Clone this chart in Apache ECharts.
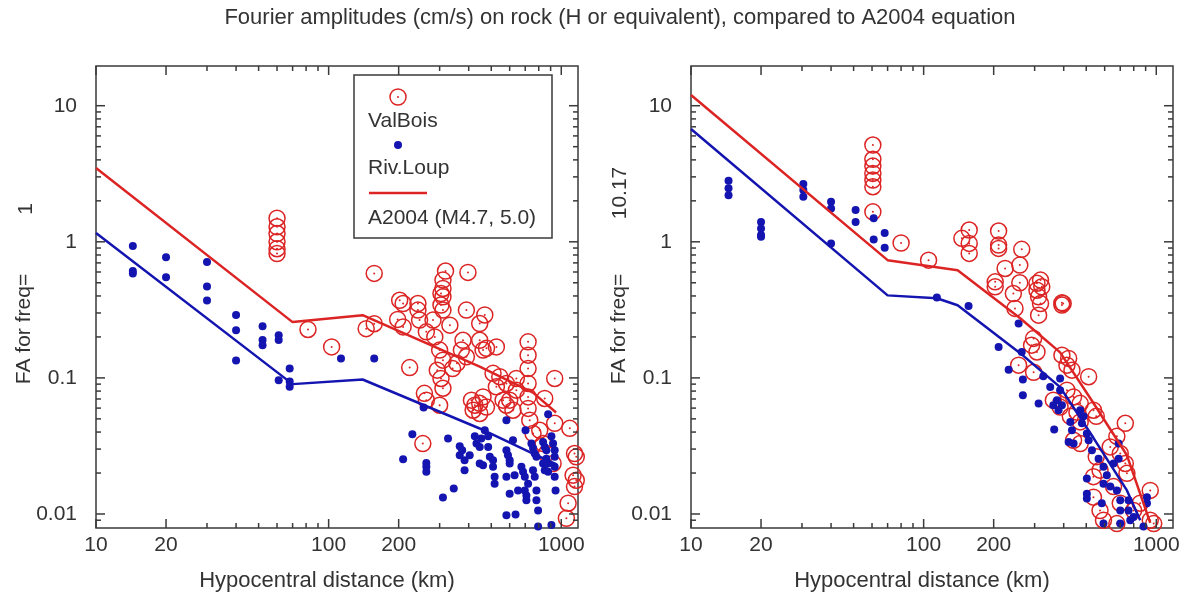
<!DOCTYPE html>
<html><head><meta charset="utf-8">
<script src="https://cdn.jsdelivr.net/npm/echarts@6/dist/echarts.min.js"></script>
<style>html,body{margin:0;padding:0;background:#fff}#c{width:1185px;height:595px}</style>
</head><body><div id="c"></div>
<script>
// ---------- text ----------
const titleText = 'Fourier amplitudes (cm/s) on rock (H or equivalent), compared to A2004 equation';
const xAxisTitle = 'Hypocentral distance (km)';
const yAxisTitle = 'FA for freq=';
const freqLabels = ['1', '10.17'];
const legendNames = ['ValBois', 'Riv.Loup', 'A2004 (M4.7, 5.0)'];

// ---------- axes ----------
const X_MIN = 10, X_MAX = 1180;
const Y_MIN = 0.00789, Y_MAX = 19.58;
const xTickValues = [10,20,30,40,50,60,70,80,90,100,200,300,400,500,600,700,800,900,1000];
const xLabelValues = [10,20,100,200,1000];
const xLabelText = ['10','20','100','200','1000'];
const yTickValues = [0.009,0.01,0.02,0.03,0.04,0.05,0.06,0.07,0.08,0.09,0.1,0.2,0.3,0.4,0.5,0.6,0.7,0.8,0.9,1,2,3,4,5,6,7,8,9,10];
const yLabelValues = [0.01,0.1,1,10];
const yLabelText = ['0.01','0.1','1','10'];

// ---------- model lines (A2004) ----------
const leftLineDist = [10, 70, 140, 446, 756, 950];
const leftRed  = [3.48, 0.257, 0.289, 0.121, 0.078, 0.0557];
const leftBlue = [1.16, 0.090, 0.0973, 0.0425, 0.0278, 0.0232];
const rightLineDistRed  = [10, 70, 140, 260, 386, 535, 748, 942];
const rightRed  = [12.0, 0.733, 0.619, 0.274, 0.154, 0.066, 0.027, 0.0086];
const rightLineDistBlue = [10, 70, 114, 140, 260, 386, 535, 748, 853];
const rightBlue = [6.74, 0.404, 0.385, 0.342, 0.152, 0.0855, 0.0366, 0.0149, 0.0090];

// ---------- observations: [distance km, FA] ----------
const leftValBois = [[60,1.49],[60,1.29],[60,1.15],[60,1.0],[60,0.89],[60,0.82],
[81.5,0.227],[103,0.169],[145,0.23],[157,0.25],[157,0.586],[202,0.372],
[242,0.352],[318,0.61],[397,0.596],[310,0.523],[310,0.454],[310,0.394],
[209,0.352],[198,0.269],[209,0.237],[223,0.119],[242,0.315],[246,0.266],[263,0.218],[281,0.266],[286,0.20],[304,0.417],[304,0.343],[310,0.315],[332,0.244],[300,0.16],[310,0.135],[293,0.114],[304,0.099],[310,0.084],[258,0.077],[263,0.0686],[300,0.063],[254,0.0329],
[391,0.315],[469,0.29],[446,0.251],[378,0.189],[372,0.16],[391,0.143],[341,0.117],[356,0.128],[446,0.189],[461,0.16],[477,0.165],[526,0.169],
[411,0.0686],[425,0.063],[446,0.065],[461,0.0725],[477,0.061],[418,0.0579],[446,0.0548],
[509,0.108],[544,0.102],[526,0.086],[581,0.091],[562,0.0686],[581,0.063],[600,0.0686],[620,0.0579],[641,0.099],[641,0.0813],
[720,0.184],[720,0.147],[720,0.117],[720,0.091],[720,0.0725],[720,0.0597],[732,0.0489],[756,0.039],[808,0.0412],[835,0.0329],[863,0.0278],
[937,0.099],[849,0.0706],[937,0.0464],[1088,0.0426],[1140,0.0278],[1160,0.0263],[1124,0.0193],[1160,0.0177],[1140,0.0159],[1070,0.012],[1052,0.0093],[922,0.0235]];

const leftRivLoup = [[14.4,0.93],[14.4,0.61],[14.4,0.586],[20,0.77],[20,0.55],[30,0.71],[30,0.47],[30,0.37],[40,0.29],[40,0.224],[40,0.134],[52,0.24],[52,0.19],[52,0.174],[61,0.206],[61,0.19],[61,0.096],[68,0.117],[68,0.094],[68,0.086],[113,0.139],[157,0.139],
[209,0.0252],[229,0.0386],[256,0.0606],[263,0.0237],[263,0.0222],[263,0.0204],[310,0.0132],[326,0.0358],[345,0.0154],[366,0.0315],[366,0.027],[375,0.0294],[384,0.0248],[384,0.021],[404,0.027],[425,0.0372],[432,0.0329],[446,0.0311],[453,0.0358],[446,0.0235],[461,0.0228],[469,0.0412],[485,0.0372],[485,0.0311],[493,0.0263],[509,0.0248],[509,0.0222],[517,0.0188],[517,0.0167],[581,0.0489],[581,0.0294],[590,0.027],[600,0.0248],[600,0.0235],[581,0.0188],[600,0.0141],[581,0.0098],[636,0.0099],[630,0.0193],[652,0.0149],[620,0.0348],[674,0.0222],[685,0.0204],[697,0.0188],[697,0.0149],[708,0.0137],[708,0.0126],[720,0.0167],[702,0.0412],[744,0.0329],[756,0.0305],[769,0.0278],[782,0.0263],[756,0.021],[769,0.0188],[782,0.0149],[782,0.0126],[795,0.0106],[795,0.0081],[907,0.0083],[835,0.0338],[849,0.0311],[863,0.0294],[863,0.0255],[878,0.0235],[878,0.0204],[878,0.0541],[907,0.0372],[922,0.0329],[937,0.0294],[937,0.0263],[937,0.0222],[937,0.0188],[945,0.0149],[835,0.0235],[849,0.021]];

const rightRivLoup = [[14.5,2.81],[14.5,2.47],[14.5,2.2],[20,1.40],[20,1.25],[20,1.12],[20,1.09],[30.4,2.66],[30.4,2.40],[30.4,2.14],[40,1.97],[40,1.76],[40,0.973],[51,1.71],[51,1.40],[61,1.49],[61,1.04],[68,1.16],[68,0.904],[114,0.39],[156,0.337],
[256,0.251],[210,0.169],[264,0.155],[232,0.115],[267,0.0973],[267,0.0746],[312,0.0648],[364,0.0418],[327,0.103],[350,0.0859],[386,0.099],[386,0.0813],[374,0.0686],[393,0.063],[361,0.063],[380,0.0579],[427,0.0475],[434,0.0412],[420,0.0338],[441,0.0329],[471,0.0579],[487,0.0522],[479,0.0464],[503,0.039],[512,0.0348],[503,0.0182],[503,0.0141],[503,0.013],[529,0.0294],[565,0.0255],[593,0.0222],[613,0.0193],[593,0.0167],[634,0.0159],[583,0.012],[593,0.0085],[689,0.0329],[689,0.0255],[655,0.0235],[677,0.0149],[700,0.0126],[700,0.0106],[700,0.0085],[760,0.0126],[760,0.0106],[773,0.009],[799,0.0095],[912,0.0133],[912,0.012],[881,0.0081]];

const rightValBois = [[60.5,5.14],[60.5,4.04],[60.5,3.6],[60.5,3.18],[60.5,2.84],[60.5,2.54],[60.5,1.66],[80,0.98],[105,0.733],[146,1.06],[157,1.22],[157,0.973],[157,0.822],[210,1.20],[210,0.946],[210,0.894],[264,0.88],[224,0.637],[259,0.674],[203,0.508],[203,0.467],[243,0.417],[259,0.50],[307,0.495],[307,0.441],[312,0.394],[322,0.467],[393,0.356],[318,0.523],[398,0.352],
[247,0.324],[318,0.352],[312,0.289],[393,0.343],[297,0.195],[291,0.174],[307,0.155],[256,0.124],[297,0.11],[393,0.147],[420,0.139],[413,0.124],[434,0.114],[512,0.102],[361,0.0686],[386,0.061],[413,0.0813],[441,0.0725],[471,0.065],[456,0.056],[427,0.0522],[471,0.0475],[537,0.0579],[552,0.0522],[441,0.0348],[471,0.0329],[736,0.0464],[677,0.0372],[634,0.0311],[700,0.0278],[736,0.0235],[748,0.0199],[552,0.0263],[573,0.021],[537,0.0188],[537,0.0133],[573,0.0106],[593,0.009],[677,0.0085],[700,0.012],[655,0.0159],[942,0.0149],[942,0.009],[975,0.0085],[853,0.012],[799,0.0106]];

// ---------- styling ----------
const RED = '#dc2424', BLUE = '#1414b0', AXIS = '#3a3a3a', TXT = '#333333';
const FONT = '"Liberation Sans", Arial, sans-serif';

const zip = (xs, ys) => xs.map((x, i) => [x, ys[i]]);

function xTickSeries(gi) {
  return {
    type: 'custom', xAxisIndex: gi, yAxisIndex: gi, silent: true, clip: false, z: 5,
    data: xTickValues.map(v => [v, Y_MIN]),
    renderItem: function (params, api) {
      const v = api.value(0);
      const b = api.coord([v, Y_MIN]);
      const t = api.coord([v, Y_MAX]);
      const li = xLabelValues.indexOf(v);
      const len = li >= 0 ? 9 : 5;
      const st = { stroke: AXIS, lineWidth: 1.5 };
      const ch = [
        { type: 'line', shape: { x1: b[0], y1: b[1], x2: b[0], y2: b[1] - len }, style: st },
        { type: 'line', shape: { x1: t[0], y1: t[1], x2: t[0], y2: t[1] + len }, style: st }
      ];
      if (li >= 0) ch.push({ type: 'text', x: b[0], y: b[1] + 17,
        style: { text: xLabelText[li], fill: TXT, font: '21px ' + FONT, align: 'center', verticalAlign: 'middle' } });
      return { type: 'group', children: ch };
    }
  };
}
function yTickSeries(gi) {
  return {
    type: 'custom', xAxisIndex: gi, yAxisIndex: gi, silent: true, clip: false, z: 5,
    data: yTickValues.map(v => [X_MIN, v]),
    renderItem: function (params, api) {
      const v = api.value(1);
      const l = api.coord([X_MIN, v]);
      const r = api.coord([X_MAX, v]);
      const li = yLabelValues.indexOf(v);
      const len = li >= 0 ? 9 : 5;
      const st = { stroke: AXIS, lineWidth: 1.5 };
      const ch = [
        { type: 'line', shape: { x1: l[0], y1: l[1], x2: l[0] + len, y2: l[1] }, style: st },
        { type: 'line', shape: { x1: r[0], y1: r[1], x2: r[0] - len, y2: r[1] }, style: st }
      ];
      if (li >= 0) ch.push({ type: 'text', x: l[0] - 19, y: l[1],
        style: { text: yLabelText[li], fill: TXT, font: '21px ' + FONT, align: 'right', verticalAlign: 'middle' } });
      return { type: 'group', children: ch };
    }
  };
}
function circles(gi, data) {
  return [
    { type: 'scatter', xAxisIndex: gi, yAxisIndex: gi, data: data, symbol: 'circle', symbolSize: 16, silent: true, z: 2,
      itemStyle: { color: 'rgba(255,255,255,0)', borderColor: RED, borderWidth: 1.5, opacity: 1 } },
    { type: 'scatter', xAxisIndex: gi, yAxisIndex: gi, data: data, symbol: 'circle', symbolSize: 2, silent: true, z: 2,
      itemStyle: { color: RED, opacity: 1 } }
  ];
}
function dots(gi, data) {
  return { type: 'scatter', xAxisIndex: gi, yAxisIndex: gi, data: data, symbol: 'circle', symbolSize: 8, silent: true, z: 3,
    itemStyle: { color: BLUE, opacity: 1 } };
}
function line(gi, data, color) {
  return { type: 'line', xAxisIndex: gi, yAxisIndex: gi, data: data, showSymbol: false, silent: true, z: 4,
    lineStyle: { color: color, width: 2.5 } };
}
const hiddenAxis = { axisLine: { show: false }, axisTick: { show: false }, axisLabel: { show: false }, splitLine: { show: false } };
function xAx(gi) { return Object.assign({ gridIndex: gi, type: 'log', logBase: 10, min: X_MIN, max: X_MAX }, hiddenAxis); }
function yAx(gi) { return Object.assign({ gridIndex: gi, type: 'log', logBase: 10, min: Y_MIN, max: Y_MAX }, hiddenAxis); }

const txt = (x, y, s, extra) => Object.assign({ type: 'text', x: x, y: y, z: 100,
  style: Object.assign({ text: s, fill: TXT, font: '21px ' + FONT, align: 'center', verticalAlign: 'middle' }, extra && extra.style || {}) },
  extra && extra.el || {});

const chart = echarts.init(document.getElementById('c'), null, { renderer: 'canvas' });
chart.setOption({
  animation: false,
  backgroundColor: '#ffffff',
  grid: [
    { left: 96, top: 66, width: 482, height: 462, show: true, borderColor: AXIS, borderWidth: 1.5, backgroundColor: '#fff' },
    { left: 691, top: 66, width: 482, height: 462, show: true, borderColor: AXIS, borderWidth: 1.5, backgroundColor: '#fff' }
  ],
  xAxis: [xAx(0), xAx(1)],
  yAxis: [yAx(0), yAx(1)],
  series: [].concat(
    circles(0, leftValBois), [dots(0, leftRivLoup)],
    [line(0, zip(leftLineDist, leftRed), RED), line(0, zip(leftLineDist, leftBlue), BLUE)],
    circles(1, rightValBois), [dots(1, rightRivLoup)],
    [line(1, zip(rightLineDistRed, rightRed), RED), line(1, zip(rightLineDistBlue, rightBlue), BLUE)],
    [xTickSeries(0), yTickSeries(0), xTickSeries(1), yTickSeries(1)]
  ),
  graphic: [
    txt(620, 18, titleText, { style: { font: '22px ' + FONT } }),
    txt(327, 581, xAxisTitle, { style: { font: '22px ' + FONT } }),
    txt(922, 581, xAxisTitle, { style: { font: '22px ' + FONT } }),
    txt(24, 329, yAxisTitle, { el: { rotation: Math.PI / 2 } }),
    txt(26, 209, freqLabels[0], { el: { rotation: Math.PI / 2 } }),
    txt(619, 329, yAxisTitle, { el: { rotation: Math.PI / 2 } }),
    txt(620, 193, freqLabels[1], { el: { rotation: Math.PI / 2 } }),
    // legend box
    { type: 'rect', z: 99, shape: { x: 354, y: 75, width: 198, height: 163 }, style: { fill: '#fff', stroke: AXIS, lineWidth: 1.5 } },
    { type: 'circle', z: 100, shape: { cx: 398, cy: 97, r: 8 }, style: { fill: 'rgba(0,0,0,0)', stroke: RED, lineWidth: 1.5 } },
    { type: 'circle', z: 100, shape: { cx: 398, cy: 97, r: 1 }, style: { fill: RED } },
    txt(368, 121, legendNames[0], { style: { align: 'left' } }),
    { type: 'circle', z: 100, shape: { cx: 398, cy: 145, r: 4 }, style: { fill: BLUE } },
    txt(368, 168, legendNames[1], { style: { align: 'left' } }),
    { type: 'line', z: 100, shape: { x1: 369, y1: 193, x2: 427, y2: 193 }, style: { stroke: RED, lineWidth: 2.5 } },
    txt(368, 218, legendNames[2], { style: { align: 'left' } })
  ]
});
</script>
</body></html>
